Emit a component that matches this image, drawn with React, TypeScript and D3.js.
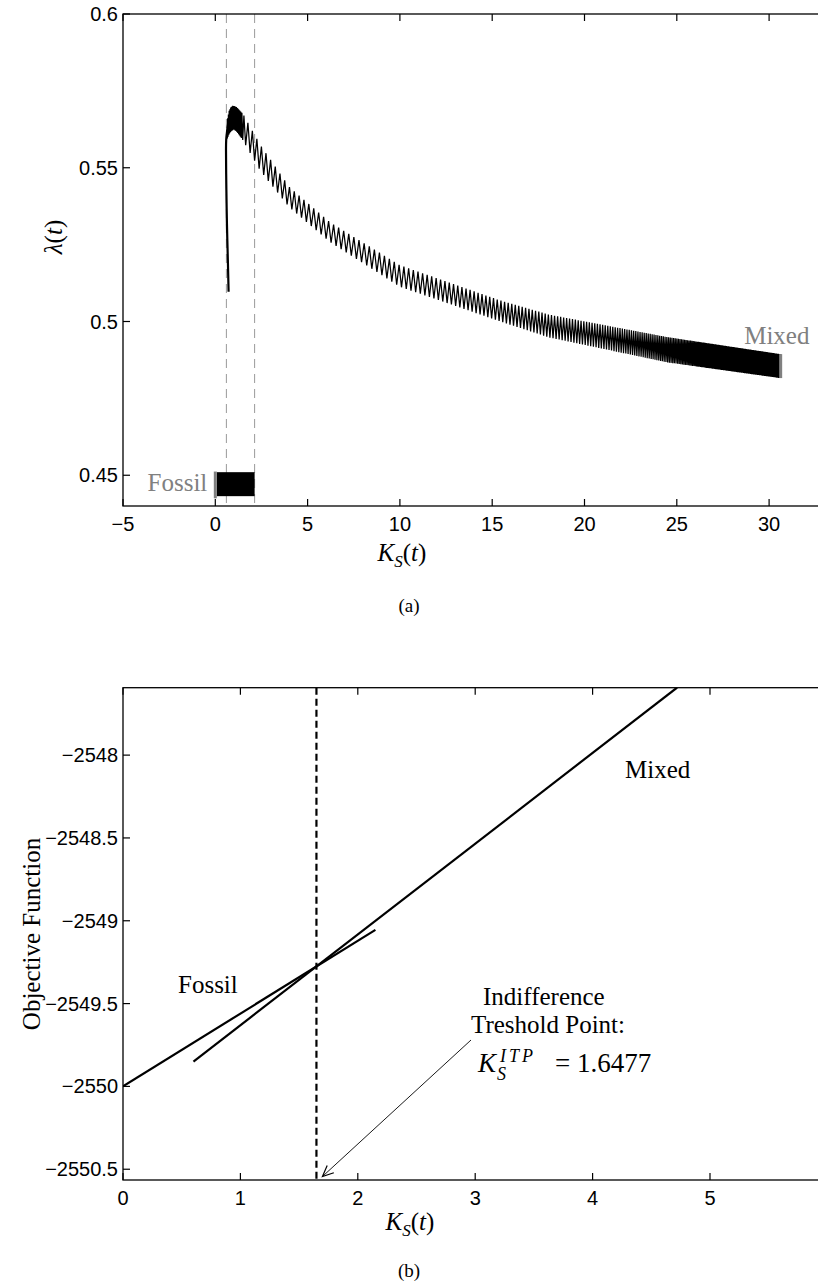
import React from 'react';
import * as d3 from 'd3';

const W = 818;
const H = 1288;

// ---------- Panel (a): lambda(t) versus K_S(t) ----------
const xTicksA = [-5, 0, 5, 10, 15, 20, 25, 30];
const yTicksA = [0.45, 0.5, 0.55, 0.6];
const regimeBounds = [0.6, 2.13];

// first climb of the mixed trajectory
const riseK = [0.72, 0.68, 0.63, 0.6, 0.58, 0.59, 0.63, 0.7, 0.8, 0.9, 0.99];
const riseL = [0.5097, 0.52, 0.532, 0.5428, 0.5558, 0.559, 0.5615, 0.5645, 0.5672, 0.569, 0.5701];

// oscillation envelope of the mixed trajectory
const bandK = [0.65, 0.75, 0.85, 1.0, 1.15, 1.3, 1.5, 2.44, 4.0, 6.2, 10, 15.4, 18.1, 24.5, 30.6];
const bandUpper = [0.5655, 0.5685, 0.5698, 0.5701, 0.5697, 0.5688, 0.5675, 0.5574, 0.5438, 0.5323, 0.5183, 0.5069, 0.5022, 0.4949, 0.4894];
const bandLower = [0.5595, 0.561, 0.5618, 0.5625, 0.5618, 0.5606, 0.5589, 0.549, 0.5372, 0.5259, 0.5113, 0.5001, 0.4948, 0.4867, 0.4816];

// length of one oscillation cycle along K_S
const cycleK = [0.65, 1.4, 1.6, 4, 8, 12, 17, 21, 24, 27, 30.6];
const cycleLen = [0.04, 0.05, 0.24, 0.26, 0.28, 0.24, 0.18, 0.14, 0.1, 0.06, 0.05];

// fossil regime block and the end markers
const fossilBandK = [0.08, 2.13];
const fossilBandL = [0.4432, 0.451];
const fossilMarkK = 0;
const fossilMarkL = [0.4425, 0.4512];
const mixedMarkK = 30.6;
const mixedMarkL = [0.4816, 0.4894];

// ---------- Panel (b): objective function ----------
const xTicksB = [0, 1, 2, 3, 4, 5];
const yTicksB = [-2550.5, -2550, -2549.5, -2549, -2548.5, -2548];
const fossilObjK = [0, 2.15];
const fossilObjV = [-2550.0, -2549.055];
const mixedObjK = [0.6, 4.72];
const mixedObjV = [-2549.85, -2547.592];
const itp = 1.6477;

const SANS = '"Liberation Sans", Arial, Helvetica, sans-serif';
const SERIF = '"Liberation Serif", "Times New Roman", serif';
const GRAY = '#808080';

const minus = (s: string) => s.replace('-', '\u2212');

function KsLabel({ x, y }: { x: number; y: number }) {
  return (
    <text x={x} y={y} fontFamily={SERIF} fontSize={25} textAnchor="middle">
      <tspan fontStyle="italic">K</tspan>
      <tspan fontStyle="italic" fontSize={17} dy={6}>S</tspan>
      <tspan dy={-6}>(</tspan>
      <tspan fontStyle="italic">t</tspan>
      <tspan>)</tspan>
    </text>
  );
}

function Frame({ x0, x1, y0, y1, xs, ys, xTicks, yTicks, fmtX, fmtY }: any) {
  const tl = 7;
  return (
    <g>
      <rect x={x0} y={y0} width={x1 - x0} height={y1 - y0} fill="none" stroke="#000" strokeWidth={1.3} />
      {xTicks.map((t: number) => (
        <g key={'x' + t}>
          <line x1={xs(t)} x2={xs(t)} y1={y1} y2={y1 - tl} stroke="#000" strokeWidth={1.2} />
          <line x1={xs(t)} x2={xs(t)} y1={y0} y2={y0 + tl} stroke="#000" strokeWidth={1.2} />
          <text x={xs(t)} y={y1 + 25} fontFamily={SANS} fontSize={20} textAnchor="middle">{fmtX(t)}</text>
        </g>
      ))}
      {yTicks.map((t: number) => (
        <g key={'y' + t}>
          <line x1={x0} x2={x0 + tl} y1={ys(t)} y2={ys(t)} stroke="#000" strokeWidth={1.2} />
          <line x1={x1} x2={x1 - tl} y1={ys(t)} y2={ys(t)} stroke="#000" strokeWidth={1.2} />
          <text x={x0 - 5} y={ys(t) + 7} fontFamily={SANS} fontSize={20} textAnchor="end">{fmtY(t)}</text>
        </g>
      ))}
    </g>
  );
}

export default function App() {
  // panel (a) scales
  const xA = d3.scaleLinear().domain([-5, 35]).range([123, 861.4]);
  const yA = d3.scaleLinear().domain([0.44, 0.6]).range([506, 14]);

  const up = d3.scaleLinear().domain(bandK).range(bandUpper).clamp(true);
  const lo = d3.scaleLinear().domain(bandK).range(bandLower).clamp(true);
  const cyc = d3.scaleLinear().domain(cycleK).range(cycleLen).clamp(true);

  // zigzag between the envelopes, one vertex per half cycle
  const zig: [number, number][] = [];
  let k = bandK[0];
  let top = false;
  const kEnd = bandK[bandK.length - 1];
  while (k <= kEnd) {
    zig.push([k, top ? up(k) : lo(k)]);
    top = !top;
    k += cyc(k) / 2;
  }
  zig.push([kEnd, top ? up(kEnd) : lo(kEnd)]);

  const lineA = d3.line<[number, number]>().x((d) => xA(d[0])).y((d) => yA(d[1]));
  const rise: [number, number][] = riseK.map((kk, i) => [kk, riseL[i]]);
  const riseCurve = d3.line<[number, number]>().x((d) => xA(d[0])).y((d) => yA(d[1])).curve(d3.curveCatmullRom);

  // panel (b) scales
  const xB = d3.scaleLinear().domain([0, 6]).range([123, 827.4]);
  const yB = d3.scaleLinear().domain([-2550.565, -2547.593]).range([1180, 687.7]);
  const lineB = d3.line<[number, number]>().x((d) => xB(d[0])).y((d) => yB(d[1]));
  const fossilObj: [number, number][] = fossilObjK.map((kk, i) => [kk, fossilObjV[i]]);
  const mixedObj: [number, number][] = mixedObjK.map((kk, i) => [kk, mixedObjV[i]]);

  const tipX = xB(itp) + 6;
  const tipY = yB(-2550.544);
  const tailX = 471;
  const tailY = 1040;
  const ang = Math.atan2(tipY - tailY, tipX - tailX);
  const ah = 12;
  const aw = 0.42;
  const head = `M${tipX - ah * Math.cos(ang - aw)},${tipY - ah * Math.sin(ang - aw)} L${tipX},${tipY} L${tipX - ah * Math.cos(ang + aw)},${tipY - ah * Math.sin(ang + aw)}`;

  return (
    <svg width={W} height={H} style={{ position: 'absolute', left: 0, top: 0, background: '#fff' }}>
      <defs>
        <clipPath id="clipA"><rect x={123} y={14} width={738} height={492} /></clipPath>
        <clipPath id="clipB"><rect x={123} y={687.7} width={705} height={492.3} /></clipPath>
      </defs>

      {/* ---------- panel (a) ---------- */}
      <g clipPath="url(#clipA)">
        {regimeBounds.map((b) => (
          <line key={b} x1={xA(b)} x2={xA(b)} y1={14} y2={506} stroke="#999" strokeWidth={1} strokeDasharray="9,6" />
        ))}
        <rect x={xA(fossilBandK[0])} width={xA(fossilBandK[1]) - xA(fossilBandK[0])}
          y={yA(fossilBandL[1])} height={yA(fossilBandL[0]) - yA(fossilBandL[1])} fill="#000" />
        <rect x={xA(fossilMarkK) - 1.5} width={3} y={yA(fossilMarkL[1])} height={yA(fossilMarkL[0]) - yA(fossilMarkL[1])} fill={GRAY} />
        <path d={riseCurve(rise) || ''} fill="none" stroke="#000" strokeWidth={2.2} />
        <path d={lineA(zig) || ''} fill="none" stroke="#000" strokeWidth={1.25} strokeLinejoin="miter" />
        <rect x={xA(mixedMarkK) - 1} width={3} y={yA(mixedMarkL[1])} height={yA(mixedMarkL[0]) - yA(mixedMarkL[1])} fill={GRAY} />
      </g>
      <Frame x0={123} x1={861.4} y0={14} y1={506} xs={xA} ys={yA} xTicks={xTicksA} yTicks={yTicksA}
        fmtX={(t: number) => minus(String(t))} fmtY={(t: number) => String(t)} />
      <text x={xA(fossilMarkK) - 8} y={491} fontFamily={SERIF} fontSize={25} fill={GRAY} textAnchor="end">Fossil</text>
      <text x={xA(mixedMarkK) - 36} y={344} fontFamily={SERIF} fontSize={25} fill={GRAY}>Mixed</text>
      <KsLabel x={402} y={561} />
      <text transform={`translate(62,237) rotate(-90)`} fontFamily={SERIF} fontSize={25} textAnchor="middle">
        <tspan fontStyle="italic">λ</tspan>(<tspan fontStyle="italic">t</tspan>)
      </text>
      <text x={409} y={612} fontFamily={SERIF} fontSize={19} textAnchor="middle">(a)</text>

      {/* ---------- panel (b) ---------- */}
      <g clipPath="url(#clipB)">
        <line x1={xB(itp)} x2={xB(itp)} y1={687.7} y2={1180} stroke="#000" strokeWidth={2.2} strokeDasharray="7,4" />
        <path d={lineB(fossilObj) || ''} fill="none" stroke="#000" strokeWidth={2.2} />
        <path d={lineB(mixedObj) || ''} fill="none" stroke="#000" strokeWidth={2.2} />
      </g>
      <Frame x0={123} x1={827.4} y0={687.7} y1={1180} xs={xB} ys={yB} xTicks={xTicksB} yTicks={yTicksB}
        fmtX={(t: number) => String(t)} fmtY={(t: number) => minus(String(t))} />
      <text x={178} y={993} fontFamily={SERIF} fontSize={25}>Fossil</text>
      <text x={625} y={778} fontFamily={SERIF} fontSize={25}>Mixed</text>
      <text x={483} y={1005} fontFamily={SERIF} fontSize={25}>Indifference</text>
      <text x={471} y={1033} fontFamily={SERIF} fontSize={25}>Treshold Point:</text>
      <text x={478} y={1072} fontFamily={SERIF} fontSize={27}>
        <tspan fontStyle="italic">K</tspan>
      </text>
      <text x={497} y={1080} fontFamily={SERIF} fontSize={18} fontStyle="italic">S</text>
      <text x={500} y={1062} fontFamily={SERIF} fontSize={18} fontStyle="italic" letterSpacing={3}>ITP</text>
      <text x={555} y={1072} fontFamily={SERIF} fontSize={27}>= 1.6477</text>
      <line x1={tailX} y1={tailY} x2={tipX} y2={tipY} stroke="#000" strokeWidth={0.9} />
      <path d={head} fill="none" stroke="#000" strokeWidth={1.2} />
      <KsLabel x={410} y={1230} />
      <text transform={`translate(40,934) rotate(-90)`} fontFamily={SERIF} fontSize={25} textAnchor="middle">Objective Function</text>
      <text x={409} y={1277} fontFamily={SERIF} fontSize={19} textAnchor="middle">(b)</text>
    </svg>
  );
}
